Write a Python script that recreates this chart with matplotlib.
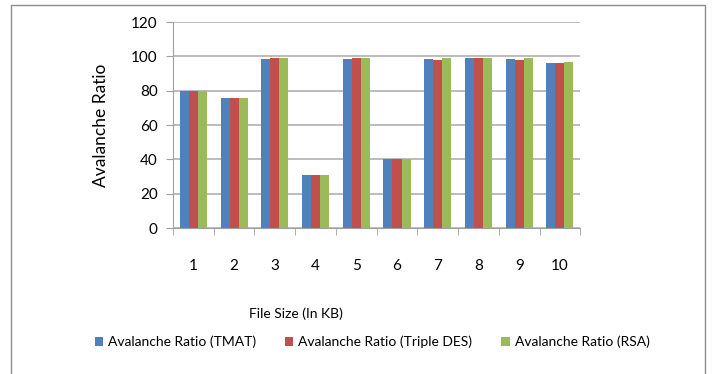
import numpy as np
import matplotlib
matplotlib.use('Agg')
from matplotlib import pyplot as plt
from matplotlib.patches import Rectangle

file_sizes = ['1', '2', '3', '4', '5', '6', '7', '8', '9', '10']
tmat = [80, 76, 98.5, 31, 98.5, 40, 98.5, 99, 98.5, 96]
triple_des = [80, 76, 99, 31, 99, 40, 98, 99, 98, 96]
rsa = [80, 76, 99, 31, 99, 40, 99, 99, 99, 97]
series_names = ['Avalanche Ratio (TMAT)', 'Avalanche Ratio (Triple DES)', 'Avalanche Ratio (RSA)']
colors = ['#4F81BD', '#C0504D', '#9BBB59']

plt.rcParams['font.family'] = ['Lato', 'DejaVu Sans']

fig = plt.figure(figsize=(7.12, 3.74), dpi=100)
ax = fig.add_axes([0.243, 0.39, 0.572, 0.551])

# outer chart border
fig.patches.append(Rectangle((11 / 712, -0.05), 694 / 712, 1.05 - 5 / 374,
                             transform=fig.transFigure, fill=False,
                             edgecolor='#8c8c8c', linewidth=1.0))

x = np.arange(len(file_sizes))
width = 0.222
handles = []
for i, (vals, c) in enumerate(zip([tmat, triple_des, rsa], colors)):
    h = ax.bar(x + (i - 1) * width, vals, width, color=c, zorder=3)
    handles.append(h)

ax.set_xlim(-0.5, len(file_sizes) - 0.5)
ax.set_ylim(0, 120)
ax.set_yticks(range(0, 121, 20))
ax.set_xticks(x)
ax.set_xticklabels(file_sizes)
ax.set_xticks(np.arange(-0.5, len(file_sizes), 1.0), minor=True)
ax.tick_params(axis='x', which='major', length=0, pad=22, labelsize=11)
ax.tick_params(axis='x', which='minor', length=5, color='#a0a0a0', direction='out')
ax.tick_params(axis='y', length=5, color='#a0a0a0', labelsize=11, pad=6)

ax.grid(axis='y', color='#b0b0b0', linewidth=1.2, zorder=0)
for s in ['top', 'right']:
    ax.spines[s].set_visible(False)
for s in ['left', 'bottom']:
    ax.spines[s].set_color('#a0a0a0')

ax.set_ylabel('Avalanche Ratio', fontsize=12.5, labelpad=16)
fig.text(296 / 712, 1 - 314 / 374, 'File Size (In KB)', ha='center', va='center', fontsize=10)

fig.legend(handles, series_names, loc='center', bbox_to_anchor=(372 / 712, 1 - 342 / 374),
           ncol=3, frameon=False, fontsize=10, handlelength=0.6, handleheight=0.6,
           handletextpad=0.35, columnspacing=2.1)

fig.savefig('out.png', dpi=100)
